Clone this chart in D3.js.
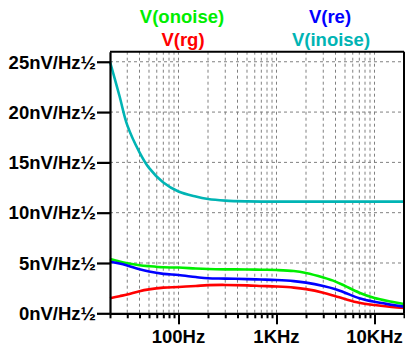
<!DOCTYPE html>
<html><head><meta charset="utf-8">
<script src="https://cdn.jsdelivr.net/npm/d3@7"></script>
<style>html,body{margin:0;padding:0;background:#fff;}svg{display:block;}</style>
</head><body>
<svg id="c" width="405" height="346"></svg>
<script>
const freqs = [20,25,30,40,50,70,100,150,200,300,500,700,1000,1500,2000,3000,4000,5000,7000,10000,15000,20000];
const onoise = [5.4,5.15,4.98,4.78,4.68,4.57,4.55,4.45,4.4,4.37,4.36,4.33,4.3,4.2,4.0,3.55,3.15,2.72,2.05,1.52,1.15,0.92];
const re     = [5.13,4.95,4.75,4.38,4.15,3.92,3.8,3.6,3.48,3.45,3.4,3.36,3.31,3.2,3.05,2.72,2.4,2.05,1.5,1.14,0.85,0.66];
const rg     = [1.49,1.7,1.87,2.2,2.38,2.55,2.62,2.72,2.8,2.82,2.78,2.72,2.66,2.55,2.4,2.05,1.7,1.42,1.05,0.82,0.62,0.52];
const inoise = [25.0,21.6,18.7,16.0,14.45,13.0,12.1,11.6,11.36,11.2,11.12,11.1,11.1,11.1,11.1,11.1,11.1,11.1,11.1,11.1,11.1,11.1];
const yTicks = [0,5,10,15,20,25];
const yTickLabels = ["0nV/Hz½","5nV/Hz½","10nV/Hz½","15nV/Hz½","20nV/Hz½","25nV/Hz½"];
const xMajor = [100,1000,10000];
const xMajorLabels = ["100Hz","1KHz","10KHz"];
const seriesNames = ["V(onoise)","V(re)","V(rg)","V(inoise)"];
const seriesColors = ["#00ee00","#0000ff","#ff0000","#00b4b4"];

const svg = d3.select("#c");
const L = 110, R = 404, T = 51.7, B = 313.3;
const x = d3.scaleLog().domain([20,20000]).range([L,R]);
const y = d3.scaleLinear().domain([0,26]).range([B,T]);
const font = "'Liberation Sans', Arial, sans-serif";

const gridF = [];
[10,100,1000,10000].forEach(d=>{for(let k=1;k<=9;k++){const f=d*k; if(f>20&&f<20000) gridF.push(f);} });
gridF.push(20000);

const g = svg.append("g");
g.selectAll("line.vg").data(gridF).join("line")
  .attr("x1",d=>x(d)).attr("x2",d=>x(d)).attr("y1",T).attr("y2",B)
  .attr("stroke","#808080").attr("stroke-width",1).attr("stroke-dasharray","3,3");
g.selectAll("line.hg").data(yTicks.filter(d=>d>0)).join("line")
  .attr("x1",L).attr("x2",R).attr("y1",d=>y(d)).attr("y2",d=>y(d))
  .attr("stroke","#808080").attr("stroke-width",1).attr("stroke-dasharray","3,3");

const data = [onoise, re, rg, inoise];
const line = d3.line().x((d,i)=>x(freqs[i])).y(d=>y(d)).curve(d3.curveCatmullRom.alpha(0.5));
const order = [3,0,2,1];
order.forEach(k=>{
  svg.append("path").attr("d",line(data[k])).attr("fill","none")
    .attr("stroke",seriesColors[k]).attr("stroke-width",2.6).attr("stroke-linejoin","round");
});

svg.append("line").attr("x1",L).attr("x2",R).attr("y1",T).attr("y2",T).attr("stroke","#000").attr("stroke-width",2);
svg.append("line").attr("x1",R).attr("x2",R).attr("y1",T).attr("y2",B).attr("stroke","#000").attr("stroke-width",2);

const xAxis = d3.axisBottom(x).tickValues([20].concat(gridF)).tickFormat("")
  .tickSizeInner(5).tickSizeOuter(0);
const xa = svg.append("g").attr("transform",`translate(0,${B})`).call(xAxis);
xa.select(".domain").attr("stroke","#000").attr("stroke-width",2.2);
xa.selectAll(".tick line").attr("stroke","#000").attr("stroke-width",2)
  .attr("y2",d=>xMajor.includes(d)?11:5);
xMajor.forEach((f,i)=>{
  svg.append("text").attr("x",x(f)).attr("y",343).attr("text-anchor","middle")
    .attr("font-family",font).attr("font-weight","bold").attr("font-size","18.5px")
    .attr("fill","#000").text(xMajorLabels[i]);
});

const yAxis = d3.axisLeft(y).tickValues(yTicks).tickFormat((d,i)=>yTickLabels[i])
  .tickSizeInner(13).tickSizeOuter(0).tickPadding(1);
const ya = svg.append("g").attr("transform",`translate(${L},0)`).call(yAxis);
ya.select(".domain").attr("stroke","#000").attr("stroke-width",2.2);
ya.selectAll(".tick line").attr("stroke","#000").attr("stroke-width",2.2);
ya.selectAll(".tick text").attr("font-family",font).attr("font-weight","bold")
  .attr("font-size","18.5px").attr("fill","#000").attr("dy","0.34em");

const legPos = [[182,22.5],[330,22.5],[183,46],[331,46]];
seriesNames.forEach((n,i)=>{
  svg.append("text").attr("x",legPos[i][0]).attr("y",legPos[i][1]).attr("text-anchor","middle")
    .attr("font-family",font).attr("font-weight","bold").attr("font-size","18.5px")
    .attr("fill",seriesColors[i]).text(n);
});
</script>
</body></html>
